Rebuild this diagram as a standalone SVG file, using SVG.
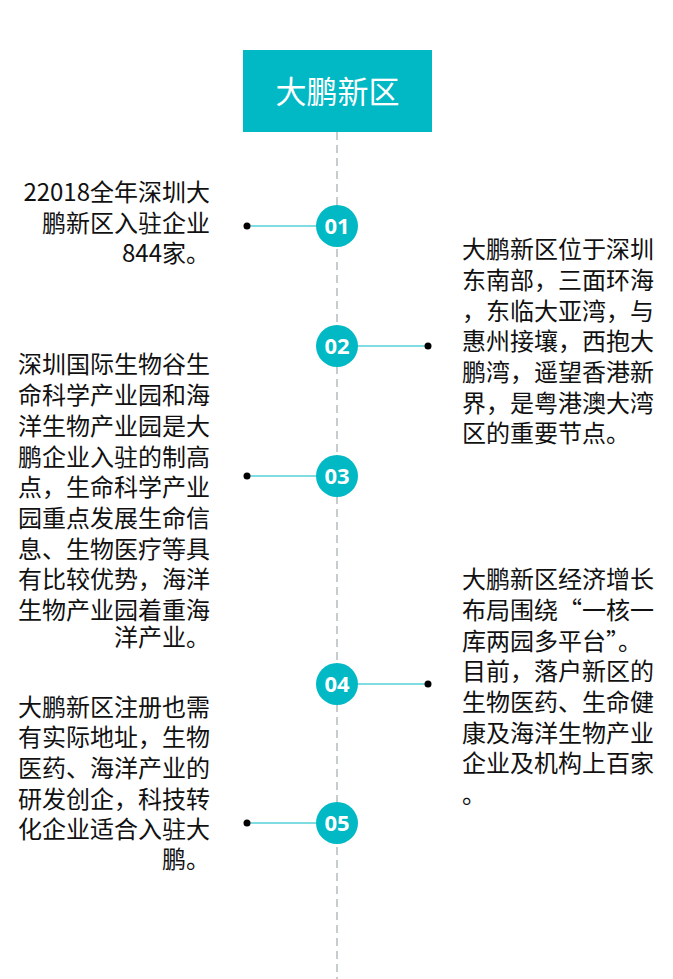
<svg xmlns="http://www.w3.org/2000/svg" width="673" height="979" viewBox="0 0 673 979">
<style>
.t{font-family:"Noto Sans CJK SC","Noto Sans",sans-serif;font-size:24px;fill:#111}
.l{text-anchor:end}
.n{font-family:"Open Sans","Noto Sans",sans-serif;font-weight:bold;font-size:22px;fill:#fff;text-anchor:middle}
.c{fill:#00b9c4}
.ln{stroke:#00b9c4;stroke-width:1.2}
</style>
<rect width="673" height="979" fill="#fff"/>
<g id="connectors">
<line x1="337" y1="132" x2="337" y2="979" stroke="#8a9a9c" stroke-width="1" stroke-dasharray="8,5"/>
<line class="ln" x1="247" y1="226" x2="320" y2="226"/><circle cx="247" cy="226" r="3.5"/>
<line class="ln" x1="354" y1="346" x2="428" y2="346"/><circle cx="428" cy="346" r="3.5"/>
<line class="ln" x1="247" y1="476" x2="320" y2="476"/><circle cx="247" cy="476" r="3.5"/>
<line class="ln" x1="354" y1="684" x2="428" y2="684"/><circle cx="428" cy="684" r="3.5"/>
<line class="ln" x1="247" y1="823" x2="320" y2="823"/><circle cx="247" cy="823" r="3.5"/>
</g>
<g id="title"><rect x="243" y="50" width="189" height="82" fill="#00b9c4"/>
<text x="337.5" y="103" font-family="Noto Sans CJK SC,sans-serif" font-size="31" fill="#fff" text-anchor="middle">大鹏新区</text></g>
<g id="n01"><circle class="c" cx="337" cy="226" r="21"/><text class="n" x="337" y="234">01</text></g>
<g id="n02"><circle class="c" cx="337" cy="346" r="21"/><text class="n" x="337" y="354">02</text></g>
<g id="n03"><circle class="c" cx="337" cy="476" r="21"/><text class="n" x="337" y="484">03</text></g>
<g id="n04"><circle class="c" cx="337" cy="684" r="21"/><text class="n" x="337" y="692">04</text></g>
<g id="n05"><circle class="c" cx="337" cy="823" r="21"/><text class="n" x="337" y="831">05</text></g>
<g id="text1">
<text class="t l" x="210" y="201">22018全年深圳大</text>
<text class="t l" x="210" y="232">鹏新区入驻企业</text>
<text class="t l" x="210" y="262">844家。</text></g>
<g id="text2">
<text class="t" x="462" y="258">大鹏新区位于深圳</text>
<text class="t" x="462" y="289">东南部，三面环海</text>
<text class="t" x="462" y="320">，东临大亚湾，与</text>
<text class="t" x="462" y="350">惠州接壤，西抱大</text>
<text class="t" x="462" y="381">鹏湾，遥望香港新</text>
<text class="t" x="462" y="412">界，是粤港澳大湾</text>
<text class="t" x="462" y="442">区的重要节点。</text></g>
<g id="text3">
<text class="t l" x="210" y="373">深圳国际生物谷生</text>
<text class="t l" x="210" y="404">命科学产业园和海</text>
<text class="t l" x="210" y="435">洋生物产业园是大</text>
<text class="t l" x="210" y="466">鹏企业入驻的制高</text>
<text class="t l" x="210" y="496">点，生命科学产业</text>
<text class="t l" x="210" y="527">园重点发展生命信</text>
<text class="t l" x="210" y="558">息、生物医疗等具</text>
<text class="t l" x="210" y="588">有比较优势，海洋</text>
<text class="t l" x="210" y="619">生物产业园着重海</text>
<text class="t l" x="210" y="646">洋产业。</text></g>
<g id="text4">
<text class="t" x="462" y="588">大鹏新区经济增长</text>
<text class="t" x="462" y="619">布局围绕“一核一</text>
<text class="t" x="462" y="650">库两园多平台”。</text>
<text class="t" x="462" y="680">目前，落户新区的</text>
<text class="t" x="462" y="711">生物医药、生命健</text>
<text class="t" x="462" y="742">康及海洋生物产业</text>
<text class="t" x="462" y="772">企业及机构上百家</text>
<text class="t" x="462" y="803">。</text></g>
<g id="text5">
<text class="t" x="18" y="716">大鹏新区注册也需</text>
<text class="t" x="18" y="746">有实际地址，生物</text>
<text class="t" x="18" y="777">医药、海洋产业的</text>
<text class="t" x="18" y="808">研发创企，科技转</text>
<text class="t" x="18" y="838">化企业适合入驻大</text>
<text class="t l" x="210" y="868">鹏。</text></g>
</svg>
